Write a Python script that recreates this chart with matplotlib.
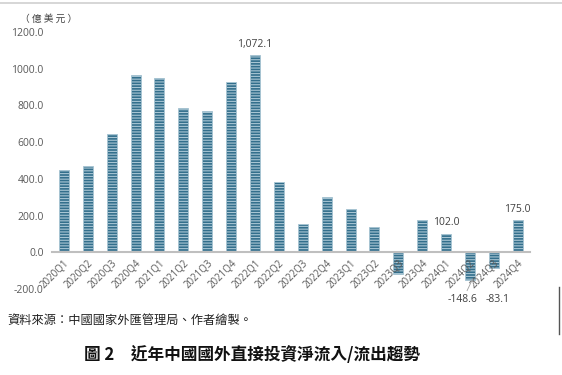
import matplotlib.pyplot as plt
from matplotlib.lines import Line2D

plt.rcParams['font.family'] = ['Open Sans', 'Noto Sans CJK TC', 'DejaVu Sans']
plt.rcParams['hatch.linewidth'] = 0.8

# 資料（億美元）
quarters = ['2020Q1', '2020Q2', '2020Q3', '2020Q4', '2021Q1', '2021Q2', '2021Q3', '2021Q4',
            '2022Q1', '2022Q2', '2022Q3', '2022Q4', '2023Q1', '2023Q2', '2023Q3', '2023Q4',
            '2024Q1', '2024Q2', '2024Q3', '2024Q4']
values = [447, 469, 644, 966, 950, 786, 769, 928,
          1072.1, 382, 153, 300, 235, 136, -120, 175,
          102.0, -148.6, -83.1, 175.0]
labelled = ['2022Q1', '2024Q1', '2024Q2', '2024Q3', '2024Q4']
yticks = [-200, 0, 200, 400, 600, 800, 1000, 1200]

fig = plt.figure(figsize=(5.62, 3.75), dpi=100)
ax = fig.add_axes([0.0925, 0.229, 0.85, 0.686])

x = list(range(len(quarters)))
ax.bar(x, values, width=0.42, color='#336F8C', edgecolor='#A9C6D4',
       hatch='------', linewidth=0.6)

ax.set_xlim(-0.5, len(quarters) - 0.5)
ax.set_ylim(-200, 1200)
ax.set_yticks(yticks)
ax.set_yticklabels([f'{v:.1f}' for v in yticks], fontsize=7.5, color='#595959')
ax.tick_params(axis='y', length=0, pad=6)

for s in ['top', 'right', 'left']:
    ax.spines[s].set_visible(False)
ax.spines['bottom'].set_position(('data', 0))
ax.spines['bottom'].set_color('#BFBFBF')
ax.spines['bottom'].set_linewidth(1.5)
ax.set_xticks(x)
ax.set_xticklabels(quarters, rotation=45, ha='right', va='top', fontsize=7,
                   color='#595959', rotation_mode='anchor')
ax.tick_params(axis='x', length=0, pad=4)

for q in labelled:
    i = quarters.index(q)
    v = values[i]
    txt = f'{v:,.1f}'
    if v >= 0:
        ax.text(i, v + 28, txt, ha='center', va='bottom', fontsize=7.5, color='#404040')
    elif q == '2024Q2':
        ax.text(i - 0.3, -256, txt, ha='center', va='center', fontsize=7.5,
                color='#404040', clip_on=False)
        ax.plot([i - 0.12, i + 0.1], [-208, -148], color='#A0A0A0', lw=0.6,
                clip_on=False)
    else:
        ax.text(i + 0.15, -256, txt, ha='center', va='center', fontsize=7.5,
                color='#404040', clip_on=False)

ax.text(-1.85, 1255, '（ 億 美 元 ）', fontsize=7, color='#404040', ha='left',
        family=['Noto Sans CJK TC'])

fig.text(0.014, 0.135, '資料來源：中國國家外匯管理局、作者繪製。', fontsize=8.8,
         color='#222222', family=['Noto Sans CJK TC'])
fig.text(0.448, 0.04, '圖 2　近年中國國外直接投資淨流入/流出趨勢', fontsize=12,
         weight='bold', ha='center', color='#111111', family=['Noto Sans CJK TC'])

fig.add_artist(Line2D([0, 1], [0.992, 0.992], color='#D0D0D0', lw=1.2))
fig.add_artist(Line2D([0.995, 0.995], [0.11, 0.235], color='#555555', lw=1.0))

fig.savefig('out.png', dpi=100)
